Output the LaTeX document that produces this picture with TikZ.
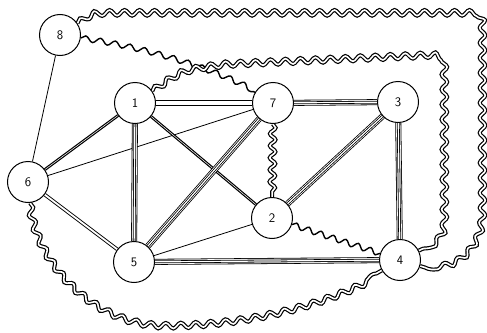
\documentclass[tikz,border=0pt]{standalone}
\usetikzlibrary{decorations.pathmorphing}
\pgfdeclarelayer{bg}
\pgfsetlayers{bg,main}
\begin{document}
\begin{tikzpicture}[x=1pt,y=-1pt,
  vtx/.style={circle,draw,line width=1pt,fill=white,minimum size=41pt,inner sep=0pt,font=\sffamily\fontsize{13}{13}\selectfont},
  plainedge/.style={line width=0.8pt},
  dbl/.style={line width=0.9pt,double=white,double distance=1.8pt},
  heavy/.style={line width=1.2pt,double=white,double distance=0.5pt},
  quad/.style={preaction={draw,line width=6pt},preaction={draw=white,line width=4.4pt},draw,line width=0.8pt,double=white,double distance=1.2pt},
  wav/.style={decorate,decoration={snake,segment length=15pt,amplitude=2.8pt},line width=1.4pt},
  wav2/.style={decorate,decoration={snake,segment length=15pt,amplitude=2.8pt},line width=1.2pt,double=white,double distance=1.6pt}]
\useasboundingbox (0,0) rectangle (487,332);
\node[vtx] (n8) at (60,35) {8};
\node[vtx] (n1) at (135,103) {1};
\node[vtx] (n7) at (273,103) {7};
\node[vtx] (n3) at (398,102) {3};
\node[vtx] (n6) at (28,182) {6};
\node[vtx] (n2) at (272,218) {2};
\node[vtx] (n5) at (134,262) {5};
\node[vtx] (n4) at (400,260) {4};
\begin{pgfonlayer}{bg}
\draw[plainedge] (n8) -- (n6);
\draw[plainedge] (n6) -- (n7);
\draw[plainedge] (n5) -- (n2);
\draw[heavy] (n1) -- (n6);
\draw[heavy] (n1) -- (n2);
\draw[dbl] (n6) -- (n5);
\draw[quad] (n1) -- (n7);
\draw[quad] (n7) -- (n3);
\draw[quad] (n3) -- (n4);
\draw[quad] (n5) -- (n4);
\draw[quad] (n1) -- (n5);
\draw[quad] (n3) -- (n2);
\draw[quad] (n7) -- (n5);
% wavy connectors
\draw[wav2] (n8) .. controls (90,15) .. (120,15) -- (462,15) .. controls (478,15) .. (478,31) -- (478,215) .. controls (478,250) and (450,275) .. (n4);
\draw[wav] (n8) .. controls (150,48) and (220,72) .. (n7);
\draw[wav2] (n1) .. controls (180,72) .. (225,66) -- (425,57) .. controls (440,57) .. (440,72) -- (440,222) .. controls (440,238) and (430,245) .. (n4);
\draw[wav2,decoration={segment length=12pt}] (n7) -- (n2);
\draw[wav,decoration={segment length=13pt}] (n2) -- (n4);
\draw[wav2] (n6) .. controls (35,255) and (90,322) .. (165,322) .. controls (250,322) and (330,300) .. (n4);
\end{pgfonlayer}
\end{tikzpicture}
\end{document}
